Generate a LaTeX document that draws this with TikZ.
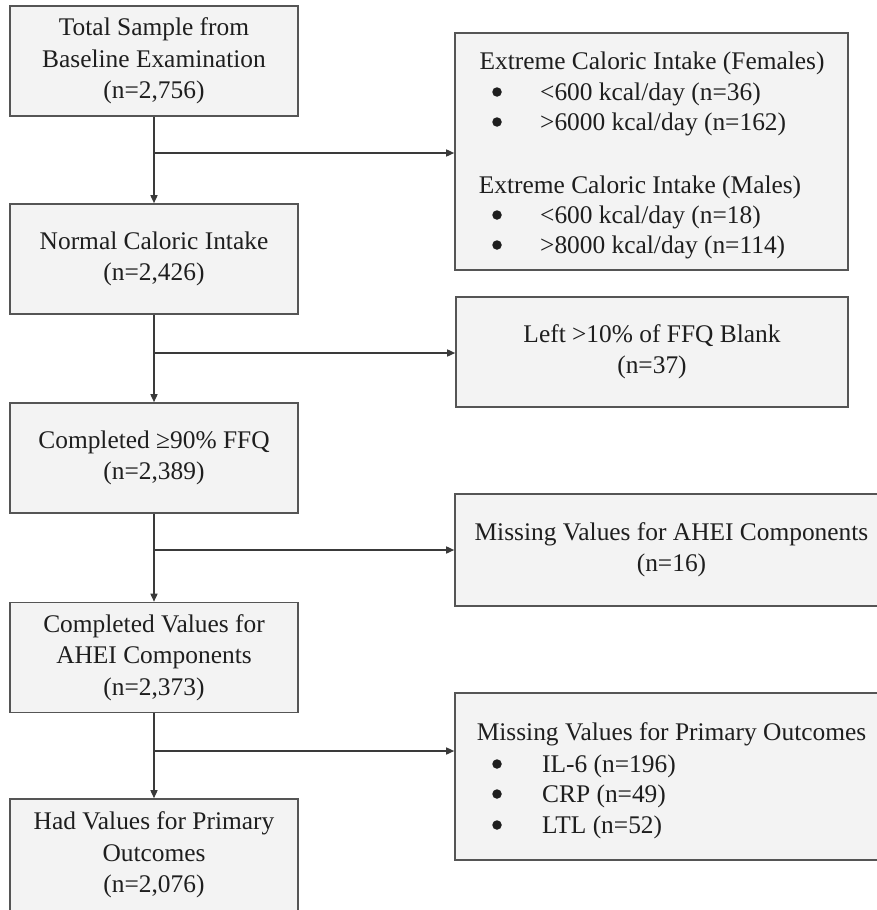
\documentclass[tikz,border=0pt]{standalone}
\usepackage{fontspec}
\setmainfont{Liberation Serif}
\usetikzlibrary{arrows.meta}
\definecolor{boxfill}{HTML}{F3F3F3}
\definecolor{boxline}{HTML}{555555}
\definecolor{connline}{HTML}{3A3A3A}
\definecolor{txt}{HTML}{1E1E1E}
\newcommand{\mainfs}{\fontsize{25.4}{31.5}\selectfont}
\begin{document}
\begin{tikzpicture}[x=1pt,y=-1pt,
  box/.style={draw=boxline, fill=boxfill, line width=1.6pt, inner sep=0pt,
    align=center, font=\mainfs, text=txt},
  lbox/.style={box, minimum width=288pt, minimum height=110pt},
  conn/.style={draw=connline, line width=1.5pt, -{Triangle[length=8pt,width=7pt]}},
  tline/.style={font=\mainfs, text=txt, inner sep=0pt, anchor=base},
  bline/.style={font=\mainfs, text=txt, inner sep=0pt, anchor=base west},
  bdot/.style={circle, fill=txt, inner sep=0pt, minimum size=9.5pt}]
\useasboundingbox (0,0) rectangle (876,910);
\fill[white] (0,0) rectangle (876,910);

% left column
\node[lbox] (b1) at (154,61) {Total Sample from\\Baseline Examination\\(n=2,756)};
\node[lbox] (b2) at (154,259) {Normal Caloric Intake\\(n=2,426)};
\node[lbox] (b3) at (154,458) {Completed ≥90\% FFQ\\(n=2,389)};
\node[lbox] (b4) at (154,657.5) {Completed Values for\\AHEI Components\\(n=2,373)};
\node[lbox, minimum height=112pt] (b5) at (154,855) {Had Values for Primary\\Outcomes\\(n=2,076)};

% right column
\node[box, minimum width=393pt, minimum height=237pt] (r1) at (651.5,151.5) {};
\node[tline] (r1h1) at (652,69) {Extreme Caloric Intake (Females)};
\node[bdot] (r1d1) at (497,92) {};
\node[bline] (r1t1) at (540,100) {<600 kcal/day (n=36)};
\node[bdot] (r1d2) at (497,122) {};
\node[bline] (r1t2) at (540,130) {>6000 kcal/day (n=162)};
\node[tline] (r1h2) at (640,193) {Extreme Caloric Intake (Males)};
\node[bdot] (r1d3) at (497,215) {};
\node[bline] (r1t3) at (540,223) {<600 kcal/day (n=18)};
\node[bdot] (r1d4) at (497,245) {};
\node[bline] (r1t4) at (540,253) {>8000 kcal/day (n=114)};

\node[box, minimum width=392pt, minimum height=110pt] (r2) at (652,352) {Left >10\% of FFQ Blank\\(n=37)};
\node[box, minimum width=433pt, minimum height=112pt] (r3) at (671.5,550) {Missing Values for AHEI Components\\(n=16)};

\node[box, minimum width=433pt, minimum height=167pt] (r4) at (671.5,776.5) {};
\node[tline] (r4h) at (671.5,740) {Missing Values for Primary Outcomes};
\node[bdot] (r4d1) at (497,764) {};
\node[bline] (r4t1) at (542,772) {IL-6 (n=196)};
\node[bdot] (r4d2) at (497,794) {};
\node[bline] (r4t2) at (542,802) {CRP (n=49)};
\node[bdot] (r4d3) at (497,825) {};
\node[bline] (r4t3) at (542,833) {LTL (n=52)};

% connectors
\coordinate (j1) at (b1.south |- 0,153);
\coordinate (j2) at (b2.south |- 0,353);
\coordinate (j3) at (b3.south |- 0,550);
\coordinate (j4) at (b4.south |- 0,751);

\draw[conn] (b1.south) -- (b2.north);
\draw[conn] (b2.south) -- (b3.north);
\draw[conn] (b3.south) -- (b4.north);
\draw[conn] (b4.south) -- (b5.north);

\draw[conn] (j1) -- (j1 -| r1.west);
\draw[conn] (j2) -- (j2 -| r2.west);
\draw[conn] (j3) -- (j3 -| r3.west);
\draw[conn] (j4) -- (j4 -| r4.west);
\end{tikzpicture}
\end{document}
